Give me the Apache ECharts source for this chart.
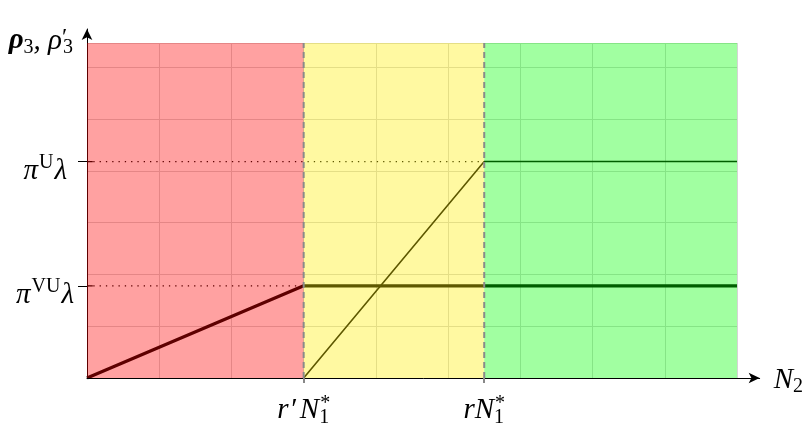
<!DOCTYPE html>
<html><head><meta charset="utf-8">
<script src="https://cdn.jsdelivr.net/npm/echarts@6/dist/echarts.min.js"></script>
<style>html,body{margin:0;padding:0;background:#fff}#c{width:806px;height:433px}</style>
</head><body><div id="c"></div>
<script>
// ---- data ----
const xMax = 9;
const yMax = 6.47;
const regionStart = [0, 3, 5.5];
const regionEnd = [3, 5.5, 9];
const regionColors = ['rgb(255,0,0)', 'rgb(255,238,0)', 'rgb(0,255,0)'];
const thickX = [0, 3, 9];
const thickY = [0, 1.78, 1.78];
const thinX = [3, 5.5, 9];
const thinY = [0, 4.18, 4.18];
const levelValues = [1.78, 4.18];
const levelEnds = [3, 5.5];
const xTickValues = [3, 5.5];
const xTickLabels = ['{xi|r}{xp|′}{xi|N}{xsub|1}{xsup|*}', '{xi|rN}{xsub|1}{xsup|*}'];
const yTickLabels = ['{yi|π}{ysup|VU}{yi|λ}', '{yi|π}{ysup|U}{yil|λ}'];

// ---- layout ----
const F = "'Liberation Serif'";
const MS = 29, SS = 20;
const G0 = {left: 87, right: 69, top: 43, bottom: 55};
const G1 = {left: 87, right: 46, top: 29, bottom: 55};
const W = 806, H = 433;
const xMax1 = xMax * (W - G1.left - G1.right) / (W - G0.left - G0.right);
const yMax1 = yMax * (H - G1.top - G1.bottom) / (H - G0.top - G0.bottom);

const pts = (xs, ys) => xs.map((x, i) => [x, ys[i]]);

const chart = echarts.init(document.getElementById('c'));
const option = {
  animation: false,
  backgroundColor: '#fff',
  grid: [G0, G1],
  xAxis: [
    {
      gridIndex: 0, type: 'value', min: 0, max: xMax, interval: 1,
      axisLine: {show: false}, axisTick: {show: false},
      axisLabel: {
        show: true, customValues: xTickValues, margin: 18,
        formatter: v => xTickLabels[xTickValues.indexOf(v)],
        rich: {
          xi: {fontFamily: F, fontStyle: 'italic', fontSize: MS, color: '#000', align: 'left', lineHeight: 28},
          xp: {fontFamily: F, fontStyle: 'italic', fontSize: MS, color: '#000', align: 'left', lineHeight: 28, padding: [0, 4, 0, 1]},
          xsub: {fontFamily: F, fontSize: SS, color: '#000', align: 'left', width: 1, lineHeight: 28, padding: [16, 0, 0, 0]},
          xsup: {fontFamily: F, fontSize: SS, color: '#000', align: 'left', lineHeight: 28, padding: [0, 0, 12, 0]}
        }
      },
      splitLine: {show: true, lineStyle: {color: '#d4d4d4', width: 1}}
    },
    {
      gridIndex: 1, type: 'value', min: 0, max: xMax1,
      axisLine: {show: true, symbol: ['none', 'arrow'], symbolSize: [8, 11], lineStyle: {color: '#000', width: 1}},
      axisTick: {show: true, customValues: xTickValues, length: 5, lineStyle: {color: '#888', width: 2}},
      axisLabel: {show: false}, splitLine: {show: false},
      name: '{i|N}{sub|2}', nameLocation: 'end', nameGap: 14,
      nameTextStyle: {
        align: 'left', verticalAlign: 'middle',
        rich: {
          i: {fontFamily: F, fontStyle: 'italic', fontSize: MS, color: '#000', lineHeight: 28, padding: [4, 0, 0, 0]},
          sub: {fontFamily: F, fontSize: SS, color: '#000', lineHeight: 28, padding: [18, 0, 0, 0]}
        }
      }
    }
  ],
  yAxis: [
    {
      gridIndex: 0, type: 'value', min: 0, max: yMax, interval: 1,
      axisLine: {show: false}, axisTick: {show: false},
      axisLabel: {
        show: true, customValues: levelValues, margin: 13,
        formatter: v => yTickLabels[levelValues.indexOf(v)],
        rich: {
          yi: {fontFamily: F, fontStyle: 'italic', fontSize: MS, color: '#000', lineHeight: 28, padding: [20, 0, 0, 0]},
          yil: {fontFamily: F, fontStyle: 'italic', fontSize: MS, color: '#000', lineHeight: 28, padding: [20, 7, 0, 0]},
          ysup: {fontFamily: F, fontSize: SS, color: '#000', lineHeight: 28, padding: [2, 1, 0, 1]}
        }
      },
      splitLine: {show: true, lineStyle: {color: '#d4d4d4', width: 1}},
      name: '{b|ρ}{bs|3}{n|, }{i|ρ}{p|′}{s|3}', nameLocation: 'end', nameGap: 2,
      nameTextStyle: {
        align: 'right', verticalAlign: 'middle', padding: [0, 14, 0, 0],
        rich: {
          b: {fontFamily: F, fontStyle: 'italic', fontWeight: 'bold', fontSize: MS, color: '#000', align: 'left', lineHeight: 28},
          bs: {fontFamily: F, fontSize: SS, color: '#000', align: 'left', lineHeight: 28, padding: [14, 0, 0, 0]},
          n: {fontFamily: F, fontStyle: 'italic', fontSize: MS, color: '#000', align: 'left', lineHeight: 28},
          i: {fontFamily: F, fontStyle: 'italic', fontSize: MS, color: '#000', align: 'left', lineHeight: 28},
          p: {fontFamily: F, fontSize: 24, color: '#000', align: 'left', width: 1, lineHeight: 28, padding: [0, 0, 6, 0]},
          s: {fontFamily: F, fontSize: SS, color: '#000', align: 'left', lineHeight: 28, padding: [14, 0, 0, 0]}
        }
      }
    },
    {
      gridIndex: 1, type: 'value', min: 0, max: yMax1,
      axisLine: {show: true, symbol: ['none', 'arrow'], symbolSize: [8, 11], lineStyle: {color: '#000', width: 1}},
      axisTick: {show: true, customValues: levelValues, length: 9, lineStyle: {color: '#000', width: 1}},
      axisLabel: {show: false}, splitLine: {show: false}
    }
  ],
  series: [
    {
      type: 'line', xAxisIndex: 0, yAxisIndex: 0, data: pts(thinX, thinY),
      symbol: 'none', lineStyle: {color: '#000', width: 1.6}, z: 2
    },
    {
      type: 'line', xAxisIndex: 0, yAxisIndex: 0, data: pts(thickX, thickY),
      symbol: 'none', lineStyle: {color: '#000', width: 3.2}, z: 2
    },
    ...levelValues.map((lv, i) => ({
      type: 'line', xAxisIndex: 0, yAxisIndex: 0, data: [[0, lv], [levelEnds[i], lv]],
      symbol: 'none', lineStyle: {color: '#000', width: 1.3, type: [1.3, 5]}, z: 2
    })),
    ...levelValues.map((lv) => ({
      type: 'line', xAxisIndex: 0, yAxisIndex: 0, data: [[0, lv], [0.08, lv]],
      symbol: 'none', lineStyle: {color: '#000', width: 1.2}, z: 2
    })),
    {
      type: 'custom', xAxisIndex: 0, yAxisIndex: 0, z: 3,
      data: regionStart.map((s, i) => [s, regionEnd[i], i]),
      renderItem: (params, api) => {
        const p0 = api.coord([api.value(0), yMax]);
        const p1 = api.coord([api.value(1), 0]);
        return {
          type: 'rect',
          shape: {x: p0[0], y: p0[1], width: p1[0] - p0[0], height: p1[1] - p0[1]},
          style: {fill: regionColors[api.value(2)], opacity: 0.37}
        };
      }
    },
    ...xTickValues.map(xv => ({
      type: 'line', xAxisIndex: 0, yAxisIndex: 0, data: [[xv, 0], [xv, yMax]],
      symbol: 'none', lineStyle: {color: '#8a8a8a', width: 2, type: [6, 4]}, z: 4
    }))
  ]
};
chart.setOption(option);
</script>
</body></html>
